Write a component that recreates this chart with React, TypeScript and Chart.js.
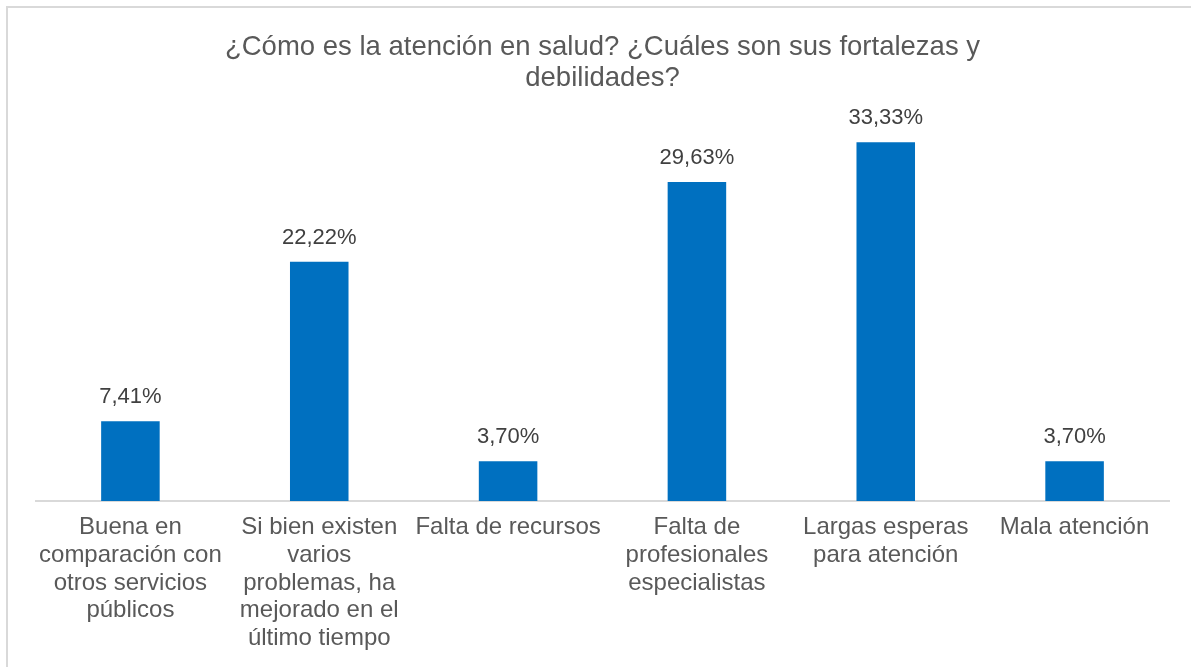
import React, { useEffect, useRef } from "react";
import { Chart, registerables } from "chart.js";

Chart.register(...registerables);

const categories: string[][] = [
  ["Buena en", "comparación con", "otros servicios", "públicos"],
  ["Si bien existen", "varios", "problemas, ha", "mejorado en el", "último tiempo"],
  ["Falta de recursos"],
  ["Falta de", "profesionales", "especialistas"],
  ["Largas esperas", "para atención"],
  ["Mala atención"],
];
const values: number[] = [7.41, 22.22, 3.7, 29.63, 33.33, 3.7];
const titleLines: string[] = [
  "¿Cómo es la atención en salud? ¿Cuáles son sus fortalezas y",
  "debilidades?",
];

const FONT = "'Liberation Sans', Arial, Helvetica, sans-serif";

const valueLabels = {
  id: "valueLabels",
  afterDatasetsDraw(chart: any) {
    const ctx = chart.ctx;
    const meta = chart.getDatasetMeta(0);
    ctx.save();
    ctx.font = `22px ${FONT}`;
    ctx.fillStyle = "#404040";
    ctx.textAlign = "center";
    ctx.textBaseline = "alphabetic";
    meta.data.forEach((bar: any, i: number) => {
      const txt = values[i].toFixed(2).replace(".", ",") + "%";
      ctx.fillText(txt, bar.x, bar.y - 18);
    });
    ctx.restore();
  },
};

export default function App() {
  const ref = useRef<HTMLCanvasElement>(null);
  useEffect(() => {
    if (!ref.current) return;
    const chart = new Chart(ref.current, {
      type: "bar",
      data: {
        labels: categories,
        datasets: [
          {
            data: values,
            backgroundColor: "#0070C0",
            barPercentage: 0.31,
            categoryPercentage: 1,
          },
        ],
      },
      options: {
        animation: false,
        responsive: false,
        maintainAspectRatio: false,
        layout: { padding: { left: 36, right: 22, top: 0, bottom: 0 } },
        plugins: {
          legend: { display: false },
          tooltip: { enabled: false },
          title: {
            display: true,
            text: titleLines,
            color: "#595959",
            font: { family: FONT, size: 27.5, weight: "normal", lineHeight: 1.13 },
            padding: { top: 31.5, bottom: 30.5 },
          },
        },
        scales: {
          x: {
            grid: { display: false, drawTicks: false },
            border: { display: true, color: "#D9D9D9", width: 2 },
            ticks: {
              color: "#595959",
              font: { family: FONT, size: 24, lineHeight: 1.15 },
              padding: 13,
              autoSkip: false,
              maxRotation: 0,
              minRotation: 0,
            },
            afterFit: (scale: any) => {
              scale.height = 166;
            },
          },
          y: {
            display: false,
            min: 0,
            max: 35,
          },
        },
      },
      plugins: [valueLabels],
    });
    return () => chart.destroy();
  }, []);
  return (
    <div style={{ position: "fixed", left: 0, top: 0, width: 1191, height: 667, background: "#fff", overflow: "hidden" }}>
      <div
        style={{
          position: "absolute",
          left: 6,
          top: 6,
          width: 1300,
          height: 800,
          borderTop: "2px solid #D9D9D9",
          borderLeft: "2px solid #D9D9D9",
        }}
      />
      <canvas ref={ref} width={1191} height={667} style={{ position: "absolute", left: 0, top: 0, width: 1191, height: 667 }} />
    </div>
  );
}
